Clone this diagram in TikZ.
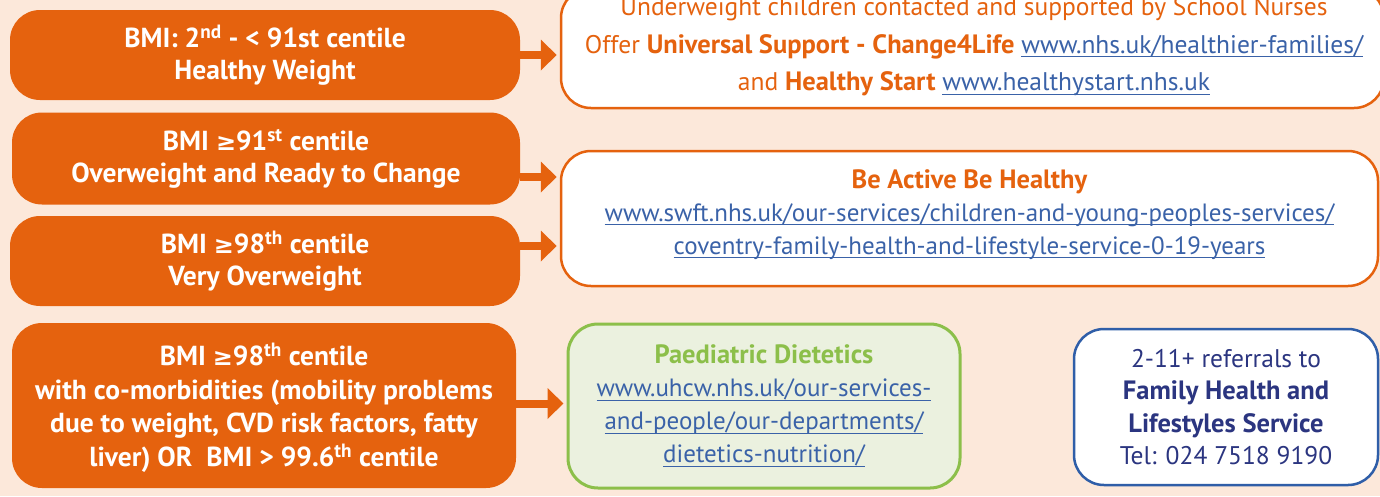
\documentclass[tikz,border=0pt]{standalone}
\usepackage{fontspec}
\setmainfont{PT Sans}
\newfontfamily\symf{DejaVu Sans}
\usetikzlibrary{arrows.meta,calc}
\definecolor{bg}{HTML}{FCE8DA}
\definecolor{org}{HTML}{E5620E}
\definecolor{lnk}{HTML}{3A62A8}
\definecolor{grn}{HTML}{8CBF4A}
\definecolor{grnfill}{HTML}{EBF1DF}
\definecolor{navy}{HTML}{2B3580}
\definecolor{blu}{HTML}{2F5EA8}
\newcommand\lnk[1]{\textcolor{lnk}{\setbox0\hbox{#1}\rlap{\rule[-4pt]{\wd0}{1.1pt}}\box0}}
\newcommand\gesym{{\symf\bfseries\fontsize{24}{24}\selectfont ≥}}
\newcommand\bft[1]{{\fontsize{26.5}{26.5}\selectfont\bfseries #1}}
\tikzset{
  obox/.style={fill=org, rounded corners=30pt, inner sep=0pt, text=white, align=center,
    font=\fontsize{27.5}{32}\selectfont\bfseries},
  wbox/.style={draw=org, line width=2.5pt, fill=white, rounded corners=30pt, inner sep=0pt},
  wtxt/.style={inner sep=0pt, text=org, align=center, font=\fontsize{25.5}{37.5}\selectfont},
  gbox/.style={draw=grn, line width=3pt, fill=grnfill, rounded corners=30pt, inner sep=0pt,
    text=grn, align=center, font=\fontsize{25}{33}\selectfont},
  bbox/.style={draw=blu, line width=2.5pt, fill=white, rounded corners=30pt, inner sep=0pt,
    text=navy, align=center, font=\fontsize{25.5}{32.5}\selectfont},
  arr/.style={draw=org, line width=8pt, -{Triangle[length=16pt,width=30pt]}, shorten >=3pt}
}
\begin{document}
\begin{tikzpicture}[x=1pt,y=-1pt]
\useasboundingbox (0,0) rectangle (1380,496);
\fill[bg] (0,0) rectangle (1380,496);

\node[obox, minimum width=510pt, minimum height=90pt] (b1) at (265,55)
  {BMI: 2\textsuperscript{nd} - < 91st centile\\Healthy Weight};
\node[obox, minimum width=508pt, minimum height=92pt] (b2) at (266,158.5)
  {BMI \gesym91\textsuperscript{st} centile\\Overweight and Ready to Change};
\node[obox, minimum width=510pt, minimum height=90pt] (b3) at (265,261)
  {BMI \gesym98\textsuperscript{th} centile\\Very Overweight};
\node[obox, minimum width=504pt, minimum height=165pt, font=\fontsize{27.5}{33.5}\selectfont\bfseries] (b4) at (264,405.5)
  {};
\node[text=white, align=center, inner sep=0pt, font=\fontsize{27.5}{33.5}\selectfont\bfseries] (b4t) at ($(b4.center)+(0,2.5)$)
  {BMI \gesym98\textsuperscript{th} centile\\with co-morbidities (mobility problems\\due to weight, CVD risk factors, fatty\\liver) OR\ \ BMI > 99.6\textsuperscript{th} centile};

\node[wbox, minimum width=823pt, minimum height=120pt] (r1) at (972.5,48) {};
\node[wtxt] (r1t) at ($(r1.center)+(1.5,-1)$)
  {Underweight children contacted and supported by School Nurses\\
   Offer \bft{Universal Support - Change4Life} \lnk{www.nhs.uk/healthier-families/}\\
   and \bft{Healthy Start} \lnk{www.healthystart.nhs.uk}};
\node[wbox, minimum width=817pt, minimum height=135pt] (r2) at (969.5,218.5) {};
\node[wtxt, font=\fontsize{25}{33}\selectfont] (r2t) at ($(r2.center)+(0,-4)$)
  {\textcolor{org}{\bft{Be Active Be Healthy}}\\
   \lnk{www.swft.nhs.uk/our-services/children-and-young-peoples-services/}\\
   \lnk{coventry-family-health-and-lifestyle-service-0-19-years}};
\node[gbox, minimum width=392pt, minimum height=164pt] (g) at (764,406)
  {\bft{Paediatric Dietetics}\\
   \lnk{www.uhcw.nhs.uk/our-services-}\\
   \lnk{and-people/our-departments/}\\
   \lnk{dietetics-nutrition/}};
\node[bbox, minimum width=304pt, minimum height=156pt] (fh) at (1226,407)
  {2-11+ referrals to\\\bft{Family Health and}\\\bft{Lifestyles Service}\\Tel: 024 7518 9190};

\draw[arr] (b1.east) -- (b1.east -| r1.west);
\draw[arr] ([yshift=-18.5pt]b2.east) -- ([yshift=-18.5pt]b2.east -| r2.west);
\draw[arr] ([yshift=15pt]b3.east) -- ([yshift=15pt]b3.east -| r2.west);
\draw[arr] ([yshift=2pt]b4.east) -- ([yshift=2pt]b4.east -| g.west);
\end{tikzpicture}
\end{document}
